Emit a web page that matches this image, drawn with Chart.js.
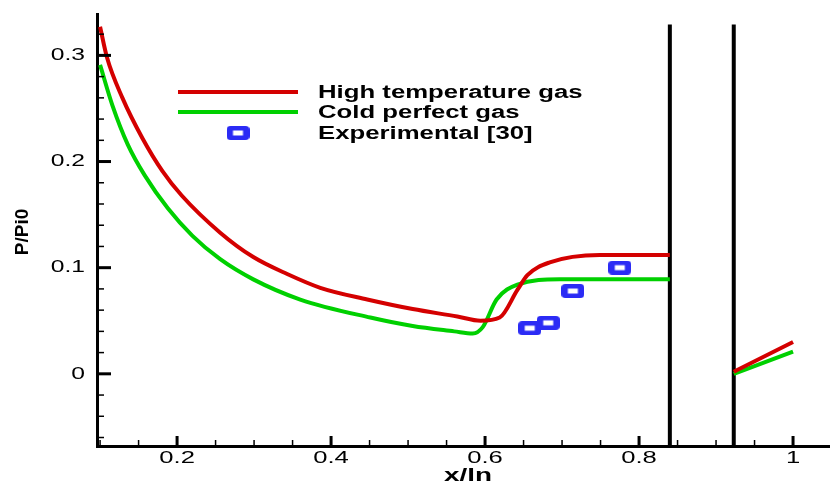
<!DOCTYPE html>
<html lang="en">
<head>
    <meta charset="UTF-8">
    <title>P/Pi0 vs x/ln</title>
    <script src="https://cdn.jsdelivr.net/npm/chart.js"></script>
    <style>
        html, body { margin: 0; padding: 0; background: #fff; overflow: hidden; }
        canvas { display: block; }
    </style>
</head>
<body>
    <canvas id="pressureChart" width="830" height="484"></canvas>

    <script>
        // High temperature gas (x/ln, P/Pi0); null splits the two wall segments
        const hotX = [0.100, 0.109, 0.129, 0.155, 0.181, 0.206, 0.256, 0.299, 0.343, 0.386, 0.447, 0.506, 0.564, 0.594, 0.619, 0.642, 0.655, 0.684, 0.749, 0.840, 0.88, 0.923, 1.000];
        const hotY = [0.327, 0.298, 0.260, 0.222, 0.191, 0.168, 0.133, 0.110, 0.094, 0.081, 0.070, 0.061, 0.054, 0.050, 0.053, 0.079, 0.093, 0.105, 0.112, 0.112, null, 0.002, 0.030];

        // Cold perfect gas
        const coldX = [0.100, 0.116, 0.136, 0.158, 0.188, 0.220, 0.256, 0.299, 0.360, 0.451, 0.506, 0.560, 0.584, 0.597, 0.615, 0.642, 0.697, 0.840, 0.88, 0.923, 1.000];
        const coldY = [0.291, 0.253, 0.216, 0.187, 0.156, 0.130, 0.108, 0.089, 0.070, 0.053, 0.045, 0.040, 0.038, 0.044, 0.070, 0.084, 0.089, 0.089, null, 0.000, 0.021];

        // Experimental [30]
        const expX = [0.658, 0.682, 0.714, 0.775];
        const expY = [0.043, 0.048, 0.078, 0.100];

        // vertical walls
        const wallX = [0.84, 0.923];
        const wallTop = 0.329;

        // axes
        const xMin = 0.096, xMax = 1.048;
        const yMin = -0.068, yMax = 0.339;
        const xMajor = [0.2, 0.4, 0.6, 0.8, 1];
        const xLabels = ['0.2', '0.4', '0.6', '0.8', '1'];
        const xMinor = [0.1, 0.15, 0.25, 0.3, 0.35, 0.45, 0.5, 0.55, 0.65, 0.7, 0.75, 0.85, 0.9, 0.95];
        const yMajor = [0, 0.1, 0.2, 0.3];
        const yLabels = ['0', '0.1', '0.2', '0.3'];
        const yMinor = [-0.06, -0.04, -0.02, 0.02, 0.04, 0.06, 0.08, 0.12, 0.14, 0.16, 0.18, 0.22, 0.24, 0.26, 0.28, 0.32];

        const legendNames = ['High temperature gas', 'Cold perfect gas', 'Experimental [30]'];

        const RED = '#d40000';
        const GREEN = '#00d000';
        const BLUE = '#2b2bf5';

        function pairs(xs, ys) {
            return xs.map((x, i) => ({ x: x, y: ys[i] }));
        }

        // hollow rounded rectangle marker for the experimental points
        function makeMarker() {
            const c = document.createElement('canvas');
            c.width = 23; c.height = 14;
            const g = c.getContext('2d');
            g.fillStyle = BLUE;
            g.beginPath();
            g.roundRect(0, 0, 23, 14, 4);
            g.fill();
            g.fillStyle = '#fff';
            g.fillRect(6.5, 4.5, 10, 5);
            return c;
        }
        const marker = makeMarker();

        const wallSets = wallX.map(w => ({
            data: [{ x: w, y: yMin }, { x: w, y: wallTop }],
            borderColor: '#000',
            borderWidth: 4,
            pointRadius: 0
        }));

        // original export has wide letters, so stretch text horizontally
        function wideText(ctx, text, x, y, sx, align) {
            ctx.save();
            ctx.translate(x, y);
            ctx.scale(sx, 1);
            ctx.textAlign = align;
            ctx.fillText(text, 0, 0);
            ctx.restore();
        }

        const decorations = {
            id: 'decorations',
            afterDraw(chart) {
                const ctx = chart.ctx;
                const xs = chart.scales.x, ys = chart.scales.y;
                const left = chart.chartArea.left, bottom = chart.chartArea.bottom;

                // inward ticks
                ctx.save();
                ctx.strokeStyle = '#000';
                ctx.lineWidth = 3;
                yMajor.forEach(v => {
                    const p = ys.getPixelForValue(v);
                    ctx.beginPath(); ctx.moveTo(left, p); ctx.lineTo(left + 14, p); ctx.stroke();
                });
                xMajor.forEach(v => {
                    const p = xs.getPixelForValue(v);
                    ctx.beginPath(); ctx.moveTo(p, bottom); ctx.lineTo(p, bottom - 10); ctx.stroke();
                });
                ctx.lineWidth = 1.5;
                yMinor.forEach(v => {
                    const p = ys.getPixelForValue(v);
                    ctx.beginPath(); ctx.moveTo(left, p); ctx.lineTo(left + 7, p); ctx.stroke();
                });
                xMinor.forEach(v => {
                    const p = xs.getPixelForValue(v);
                    ctx.beginPath(); ctx.moveTo(p, bottom); ctx.lineTo(p, bottom - 6); ctx.stroke();
                });

                // tick labels
                ctx.fillStyle = '#000';
                ctx.textBaseline = 'middle';
                ctx.font = '17px "Liberation Sans", Arial, sans-serif';
                yMajor.forEach((v, i) => {
                    wideText(ctx, yLabels[i], 85, ys.getPixelForValue(v), 1.45, 'right');
                });
                ctx.font = '16px "Liberation Sans", Arial, sans-serif';
                xMajor.forEach((v, i) => {
                    wideText(ctx, xLabels[i], xs.getPixelForValue(v), 459, 1.6, 'center');
                });

                // axis titles
                ctx.font = 'bold 18px "Liberation Sans", Arial, sans-serif';
                wideText(ctx, 'x/ln', 468, 476, 1.55, 'center');
                ctx.save();
                ctx.translate(23, 232);
                ctx.rotate(-Math.PI / 2);
                ctx.font = 'bold 19px "Liberation Sans", Arial, sans-serif';
                ctx.textAlign = 'center';
                ctx.fillText('P/Pi0', 0, 0);
                ctx.restore();

                // legend
                const rows = [92, 112, 133];
                ctx.lineWidth = 4;
                ctx.strokeStyle = RED;
                ctx.beginPath(); ctx.moveTo(178, rows[0]); ctx.lineTo(298, rows[0]); ctx.stroke();
                ctx.strokeStyle = GREEN;
                ctx.beginPath(); ctx.moveTo(178, rows[1]); ctx.lineTo(298, rows[1]); ctx.stroke();
                ctx.drawImage(marker, 238 - marker.width / 2, rows[2] - marker.height / 2);
                ctx.font = 'bold 18px "Liberation Sans", Arial, sans-serif';
                legendNames.forEach((name, i) => {
                    wideText(ctx, name, 318, rows[i] + 1, 1.43, 'left');
                });
                ctx.restore();
            }
        };

        new Chart(document.getElementById('pressureChart'), {
            type: 'line',
            data: {
                datasets: [
                    {
                        label: legendNames[0],
                        data: pairs(hotX, hotY),
                        borderColor: RED,
                        borderWidth: 4,
                        pointRadius: 0,
                        cubicInterpolationMode: 'monotone'
                    },
                    {
                        label: legendNames[1],
                        data: pairs(coldX, coldY),
                        borderColor: GREEN,
                        borderWidth: 4,
                        pointRadius: 0,
                        cubicInterpolationMode: 'monotone'
                    },
                    {
                        label: legendNames[2],
                        data: pairs(expX, expY),
                        showLine: false,
                        pointStyle: marker,
                        pointRadius: 8
                    },
                    ...wallSets
                ]
            },
            options: {
                responsive: false,
                animation: false,
                layout: { autoPadding: false, padding: { top: 14, right: 0, left: 0, bottom: 0 } },
                plugins: { legend: { display: false }, tooltip: { enabled: false } },
                scales: {
                    x: {
                        type: 'linear',
                        min: xMin, max: xMax,
                        grid: { display: false },
                        border: { display: true, color: '#000', width: 3 },
                        ticks: { display: false },
                        afterFit: s => { s.height = 38; }
                    },
                    y: {
                        min: yMin, max: yMax,
                        grid: { display: false },
                        border: { display: true, color: '#000', width: 3 },
                        ticks: { display: false },
                        afterFit: s => { s.width = 97; }
                    }
                }
            },
            plugins: [decorations]
        });
    </script>
</body>
</html>
